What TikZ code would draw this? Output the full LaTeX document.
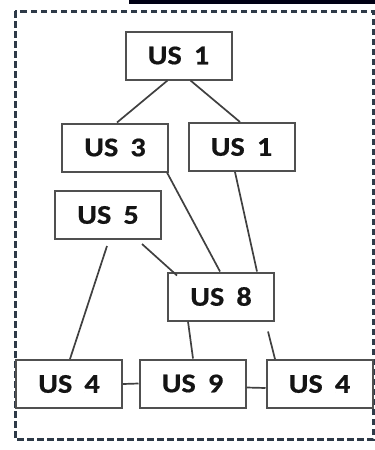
\documentclass[tikz,border=0pt]{standalone}
\usepackage{fontspec}
\newfontfamily\lbl[FakeStretch=1.12,FakeBold=0.6]{Carlito}
\usetikzlibrary{calc}
\definecolor{boxc}{HTML}{505050}
\definecolor{linec}{HTML}{404040}
\definecolor{frame}{HTML}{2E3A48}
\definecolor{txt}{HTML}{141414}
\tikzset{
  usbox/.style={draw=boxc, line width=2pt, minimum width=106pt, minimum height=48pt,
    inner sep=0pt, font=\lbl\bfseries\fontsize{27}{29}\selectfont, text=txt},
  conn/.style={draw=linec, line width=1.7pt},
}
\newcommand{\us}[1]{US\hspace{0.45em}#1}
\begin{document}
\begin{tikzpicture}[x=1pt,y=-1pt]
\useasboundingbox (0,0) rectangle (375,450);
\fill[white] (0,0) rectangle (375,450);
\fill[black!92!blue] (129,0) rectangle (375,4);
\draw[frame, line width=3pt, dash pattern=on 6.5pt off 3.5pt] (15,11) rectangle (373,439);
\node[usbox] (a) at (178.5,55.5) {\us{1}};
\node[usbox] (b) at (115,147.5) {\us{3}};
\node[usbox] (c) at (241.5,147) {\us{1}};
\node[usbox] (d) at (108,215) {\us{5}};
\node[usbox] (e) at (221,296.5) {\us{8}};
\node[usbox] (f) at (69,384) {\us{4}};
\node[usbox] (g) at (192.5,383.5) {\us{9}};
\node[usbox] (h) at (319.5,384) {\us{4}};
\draw[conn] ($(a.south)+(-11,0)$) -- ($(b.north)+(2,0)$);
\draw[conn] ($(a.south)+(12,0)$) -- ($(c.north)+(-1.5,0)$);
\draw[conn] ($(b.south)+(52,0)$) -- ($(e.north)+(-1,0)$);
\draw[conn] ($(c.south)+(-6.5,0)$) -- ($(e.north)+(36,0)$);
\draw[conn] ($(d.south)+(34,4)$) -- ($(e.north west)+(10,4)$);
\draw[conn] ($(d.south)+(-1,6)$) -- ($(f.north)+(1,0)$);
\draw[conn] ($(e.south)+(-33,0)$) -- ($(g.north)+(0.5,0)$);
\draw[conn] ($(e.south)+(47,10)$) -- ($(h.north)+(-44.5,0)$);
\draw[conn] (f.east) -- (g.west);
\draw[conn] ($(g.east)+(0,4)$) -- ($(h.west)+(0,4)$);
\end{tikzpicture}
\end{document}
